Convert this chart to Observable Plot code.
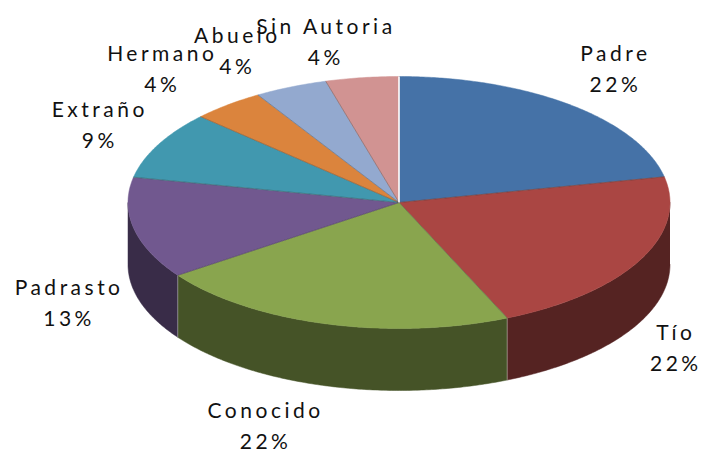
<!DOCTYPE html>
<html><head><meta charset="utf-8">
<script src="https://cdn.jsdelivr.net/npm/d3@7"></script>
<script src="https://cdn.jsdelivr.net/npm/@observablehq/plot@0.6"></script>
<style>body{margin:0;background:#fff}</style>
</head><body><div id="chart"></div>
<script>
// ---- data ----
const categories = ["Padre", "Tío", "Conocido", "Padrasto", "Extraño", "Hermano", "Abuelo", "Sin Autoria"];
const values = [21.7, 21.7, 21.7, 13.0, 8.7, 4.35, 4.35, 4.35];
const percentLabels = ["22%", "22%", "22%", "13%", "9%", "4%", "4%", "4%"];
const colors = ["#4572A7", "#AA4643", "#89A54E", "#71588F", "#4198AF", "#DB843D", "#93A9CF", "#D19392"];

// ---- layout ----
const W = 702, H = 456;
const R = 271, CX = 398.5, CY = 202;      // pixel radius / centre of the top face
const TILT = 126 / 271, DEPTH = 62 / 271;  // ellipse ratio and thickness (in radius units)
const FONT = 21, LS = 3.5, FAMILY = "Lato";

const data = categories.map((c, i) => ({name: c, value: values[i], pct: percentLabels[i], color: colors[i]}));
const arcs = d3.pie().sort(null).value(d => d.value)(data);

const topRows = [], sideRows = [], radial = [], sideEdges = [], labelRows = [];
const pt = t => [Math.sin(t), TILT * Math.cos(t)];
const dark = c => { const r = d3.rgb(c); return d3.rgb(r.r * 0.5, r.g * 0.5, r.b * 0.5).formatHex(); };

const ctx = document.createElement("canvas").getContext("2d");
ctx.font = `${FONT}px ${FAMILY}`;
const textW = s => ctx.measureText(s).width + LS * (s.length - 1);

arcs.forEach((a, i) => {
  const id = "s" + i, col = a.data.color;
  const n = Math.max(4, Math.ceil((a.endAngle - a.startAngle) / 0.01));
  topRows.push({id, x: 0, y: 0, c: col});
  for (let k = 0; k <= n; k++) {
    const [x, y] = pt(a.startAngle + (a.endAngle - a.startAngle) * k / n);
    topRows.push({id, x, y, c: col});
  }
  const s0 = Math.max(a.startAngle, Math.PI / 2), s1 = Math.min(a.endAngle, 3 * Math.PI / 2);
  if (s0 < s1) {
    const m = Math.max(4, Math.ceil((s1 - s0) / 0.01));
    const sc = dark(col);
    for (let k = 0; k <= m; k++) { const [x, y] = pt(s0 + (s1 - s0) * k / m); sideRows.push({id, x, y, c: sc}); }
    for (let k = m; k >= 0; k--) { const [x, y] = pt(s0 + (s1 - s0) * k / m); sideRows.push({id, x, y: y - DEPTH, c: sc}); }
  }
  const [bx, by] = pt(a.startAngle);
  radial.push({x: bx, y: by, first: i === 0});
  if (a.startAngle > Math.PI / 2 && a.startAngle < 3 * Math.PI / 2) sideEdges.push({x: bx, y1: by, y2: by - DEPTH});

  // label placement: outward from the rim point, box pushed clear of the pie
  const th = (a.startAngle + a.endAngle) / 2, s = Math.sin(th), c = Math.cos(th);
  const [px, py0] = pt(th);
  const py = c < 0 ? py0 - DEPTH : py0;
  const hw = Math.max(textW(a.data.name), textW(a.data.pct)) / 2;
  const ox = Math.sign(s) * Math.min(1, 3.3 * Math.abs(s)) * (hw + 12);
  const oy = Math.sign(c) * Math.min(1, 1.3 * Math.abs(c)) * 38;
  labelRows.push({x: px + ox / R, y: py + oy / R, text: a.data.name + "\n" + a.data.pct});
});

const chart = Plot.plot({
  width: W, height: H,
  marginTop: 0, marginRight: 0, marginBottom: 0, marginLeft: 0,
  x: {domain: [-CX / R, (W - CX) / R], axis: null},
  y: {domain: [-(H - CY) / R, CY / R], axis: null},
  color: {type: "identity"},
  style: {fontFamily: FAMILY, letterSpacing: LS + "px", background: "#fff", overflow: "visible"},
  marks: [
    Plot.line(sideRows, {x: "x", y: "y", z: "id", fill: "c", stroke: "c", strokeWidth: 0.5}),
    Plot.link(sideEdges, {x1: "x", x2: "x", y1: "y1", y2: "y2", stroke: "#fff", strokeOpacity: 0.35, strokeWidth: 1}),
    Plot.line(topRows, {x: "x", y: "y", z: "id", fill: "c", stroke: "c", strokeWidth: 0.5}),
    Plot.link(radial.filter(d => !d.first), {x1: 0, y1: 0, x2: "x", y2: "y", stroke: "#333", strokeOpacity: 0.45, strokeWidth: 0.8}),
    Plot.link(radial.filter(d => d.first), {x1: 0, y1: 0, x2: "x", y2: "y", stroke: "#fff", strokeWidth: 1.6}),
    Plot.text(labelRows, {x: "x", y: "y", text: "text", fontSize: FONT, lineHeight: 1.48, fill: "#111", textAnchor: "middle"})
  ]
});
document.getElementById("chart").appendChild(chart);
</script>
</body></html>
